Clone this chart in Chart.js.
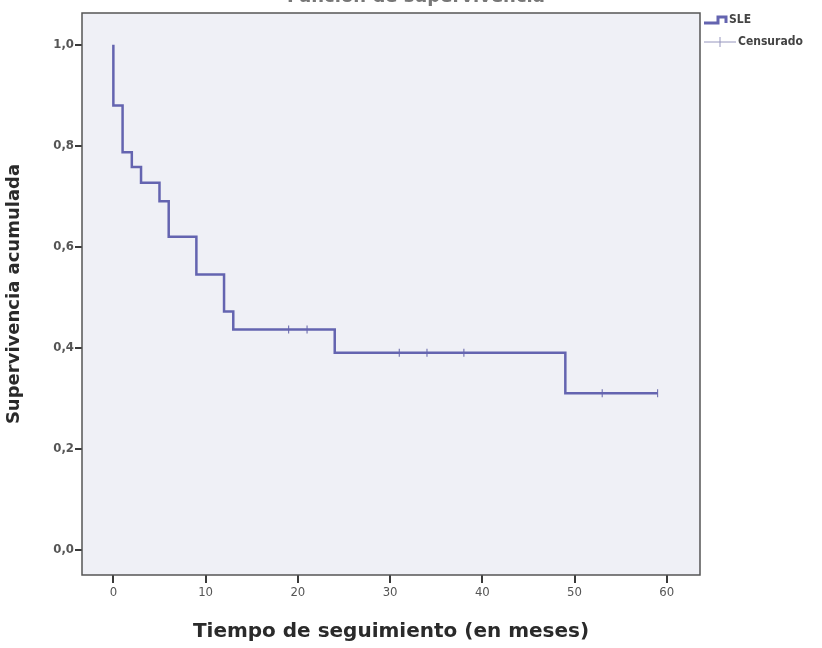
<!DOCTYPE html>
<html>
<head>
<meta charset="utf-8">
<script src="https://cdn.jsdelivr.net/npm/chart.js@4.4.1/dist/chart.umd.min.js"></script>
<style>
  html, body { margin: 0; padding: 0; background: #fff; }
  #wrap { width: 822px; height: 648px; }
</style>
</head>
<body>
<div id="wrap"><canvas id="km" width="822" height="648"></canvas></div>
<script>
// Kaplan-Meier step points (time in months, cumulative survival after the event)
const eventTimes = [0, 0, 1, 2, 3, 5, 6, 9, 12, 13, 24, 49, 59];
const survival = [1.0, 0.88, 0.787, 0.758, 0.727, 0.69, 0.62, 0.545, 0.472, 0.436, 0.39, 0.31, 0.31];

// censored observations
const censorTimes = [19, 21, 31, 34, 38, 53, 59];
const censorSurv = [0.436, 0.436, 0.39, 0.39, 0.39, 0.31, 0.31];

const xTicks = [0, 10, 20, 30, 40, 50, 60];
const yTicks = [0, 0.2, 0.4, 0.6, 0.8, 1.0];

const lineColor = "rgb(100,100,176)";
const frameColor = "#3a3a3a";

const frame = {
  id: "frame",
  beforeDatasetsDraw(chart) {
    const { ctx, chartArea: a } = chart;
    ctx.save();
    ctx.fillStyle = "#eff0f6";
    ctx.fillRect(a.left, a.top, a.right - a.left, a.bottom - a.top);
    ctx.restore();
  },
  afterDraw(chart) {
    const { ctx, chartArea: a } = chart;
    ctx.save();
    ctx.strokeStyle = "#555";
    ctx.lineWidth = 1.5;
    ctx.strokeRect(a.left, a.top, a.right - a.left, a.bottom - a.top);

    // title, cropped at the top of the picture
    ctx.fillStyle = "#777";
    ctx.font = "bold 18px 'DejaVu Sans'";
    ctx.textAlign = "center";
    ctx.textBaseline = "alphabetic";
    ctx.fillText("Función de supervivencia", (a.left + a.right) / 2 + 25, 2);

    // legend
    const lx = a.right + 4;
    ctx.strokeStyle = lineColor;
    ctx.lineWidth = 3;
    ctx.beginPath();
    ctx.moveTo(lx, 23);
    ctx.lineTo(lx + 14, 23);
    ctx.lineTo(lx + 14, 17);
    ctx.lineTo(lx + 22, 17);
    ctx.lineTo(lx + 22, 23);
    ctx.stroke();
    ctx.strokeStyle = "rgb(150,150,190)";
    ctx.lineWidth = 1;
    ctx.beginPath();
    ctx.moveTo(lx, 42);
    ctx.lineTo(lx + 32, 42);
    ctx.moveTo(lx + 16, 37);
    ctx.lineTo(lx + 16, 47);
    ctx.stroke();
    ctx.fillStyle = "#444";
    ctx.font = "bold 12px 'DejaVu Sans Condensed'";
    ctx.textAlign = "left";
    ctx.textBaseline = "middle";
    ctx.fillText("SLE", lx + 25, 20);
    ctx.fillText("Censurado", lx + 34, 42);
    ctx.restore();
  }
};

new Chart(document.getElementById("km"), {
  type: "line",
  data: {
    datasets: [
      {
        label: "SLE",
        data: eventTimes.map((t, i) => ({ x: t, y: survival[i] })),
        borderColor: lineColor,
        borderWidth: 2.5,
        stepped: "before",
        pointRadius: 0,
        fill: false
      },
      {
        label: "Censurado",
        data: censorTimes.map((t, i) => ({ x: t, y: censorSurv[i] })),
        showLine: false,
        pointStyle: "line",
        rotation: 90,
        pointRadius: 4,
        borderColor: "rgb(120,120,180)",
        borderWidth: 1.2
      }
    ]
  },
  options: {
    responsive: false,
    animation: false,
    layout: { padding: { top: 13, right: 122, left: 0, bottom: 0 } },
    plugins: { legend: { display: false }, tooltip: { enabled: false } },
    scales: {
      x: {
        type: "linear",
        min: -3.4,
        max: 63.6,
        afterBuildTicks: s => { s.ticks = xTicks.map(v => ({ value: v })); },
        afterFit: s => { s.height = 73; },
        grid: { drawOnChartArea: false, drawTicks: true, tickLength: 8, color: frameColor, lineWidth: 2 },
        border: { display: false },
        ticks: { color: "#555", font: { family: "DejaVu Sans Condensed", size: 13 }, padding: 2 },
        title: {
          display: true,
          text: "Tiempo de seguimiento (en meses)",
          color: "#2a2a2a",
          font: { family: "DejaVu Sans", weight: "bold", size: 20 },
          padding: { top: 8 }
        }
      },
      y: {
        type: "linear",
        min: -0.05,
        max: 1.063,
        afterBuildTicks: s => { s.ticks = yTicks.map(v => ({ value: v })); },
        afterFit: s => { s.width = 82; },
        grid: { drawOnChartArea: false, drawTicks: true, tickLength: 7, color: frameColor, lineWidth: 2 },
        border: { display: false },
        ticks: {
          color: "#555",
          font: { family: "DejaVu Sans Condensed", size: 13, weight: "bold" },
          padding: 1,
          callback: v => v.toFixed(1).replace(".", ",")
        },
        title: {
          display: true,
          text: "Supervivencia acumulada",
          color: "#2a2a2a",
          font: { family: "DejaVu Sans", weight: "bold", size: 18 },
          padding: { bottom: 10 }
        }
      }
    }
  },
  plugins: [frame]
});
</script>
</body>
</html>
